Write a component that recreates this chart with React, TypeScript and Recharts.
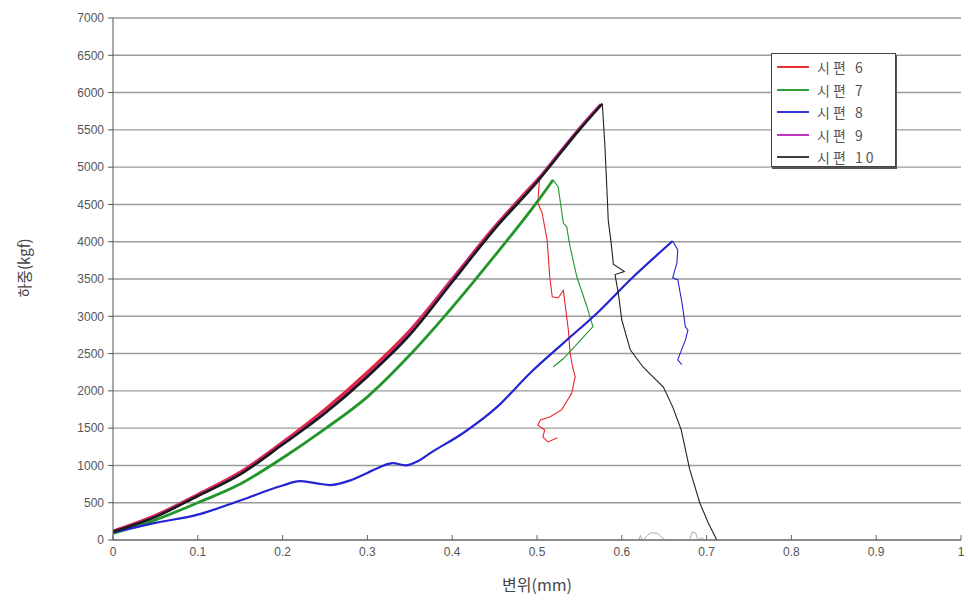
import React from 'react';
import { LineChart, Line, XAxis, YAxis, CartesianGrid, Legend } from 'recharts';

type P = [number, number];

const xTicks = [0, 0.1, 0.2, 0.3, 0.4, 0.5, 0.6, 0.7, 0.8, 0.9, 1];
const yTicks = [0, 500, 1000, 1500, 2000, 2500, 3000, 3500, 4000, 4500, 5000, 5500, 6000, 6500, 7000];

const seriesNames = ['시편 6', '시편 7', '시편 8', '시편 9', '시편 10'];
const lineColors = ['#e8262a', '#22962a', '#2424d2', '#c8288c', '#1a1a1a'];
const legendColors = ['#e83030', '#30a030', '#3838d8', '#c038c0', '#404040'];

// 시편 6
const s6Load: P[] = [
  [0, 120], [0.05, 330], [0.1, 610], [0.15, 910], [0.2, 1310], [0.25, 1750], [0.3, 2250],
  [0.35, 2810], [0.4, 3500], [0.45, 4200], [0.503, 4860],
];
const s6Fail: P[] = [
  [0.503, 4860], [0.501, 4520], [0.506, 4385], [0.512, 4020], [0.515, 3530], [0.518, 3260],
  [0.525, 3245], [0.531, 3350], [0.533, 3180], [0.535, 2990], [0.537, 2815], [0.539, 2510],
  [0.542, 2320], [0.545, 2190], [0.541, 1970], [0.529, 1745], [0.515, 1650], [0.504, 1610],
  [0.501, 1540], [0.509, 1475], [0.507, 1380], [0.513, 1315], [0.524, 1370],
];

// 시편 7
const s7Load: P[] = [
  [0, 90], [0.05, 270], [0.1, 500], [0.15, 750], [0.2, 1100], [0.25, 1490], [0.3, 1920],
  [0.35, 2480], [0.4, 3120], [0.45, 3810], [0.5, 4530], [0.519, 4830],
];
const s7Fail: P[] = [
  [0.519, 4830], [0.525, 4735], [0.531, 4250], [0.535, 4200], [0.539, 3930], [0.547, 3530],
  [0.559, 3125], [0.5625, 2990], [0.566, 2860], [0.531, 2430], [0.519, 2320],
];

// 시편 8
const s8Load: P[] = [
  [0, 100], [0.05, 230], [0.1, 340], [0.15, 530], [0.2, 730], [0.22, 790], [0.24, 760],
  [0.256, 737], [0.28, 800], [0.3, 900], [0.315, 980], [0.33, 1030], [0.345, 1000],
  [0.36, 1060], [0.374, 1165], [0.413, 1435], [0.453, 1785], [0.492, 2240], [0.531, 2640],
  [0.571, 3045], [0.61, 3490], [0.66, 4010],
];
const s8Fail: P[] = [
  [0.66, 4010], [0.666, 3890], [0.665, 3715], [0.66, 3515], [0.666, 3490], [0.671, 3180],
  [0.675, 2860], [0.678, 2815], [0.675, 2680], [0.669, 2510], [0.666, 2415], [0.671, 2350],
];

// 시편 9
const s9Load: P[] = [
  [0, 115], [0.05, 320], [0.1, 600], [0.15, 895], [0.2, 1295], [0.25, 1720], [0.3, 2210],
  [0.35, 2780], [0.4, 3490], [0.45, 4190], [0.5, 4820], [0.55, 5520], [0.575, 5840],
];

// 시편 10
const s10Load: P[] = [
  [0, 110], [0.05, 310], [0.1, 590], [0.15, 880], [0.2, 1280], [0.25, 1700], [0.3, 2190],
  [0.35, 2750], [0.4, 3460], [0.45, 4170], [0.5, 4800], [0.55, 5500], [0.577, 5850],
];
const s10Fail: P[] = [
  [0.577, 5850], [0.58, 5300], [0.583, 4560], [0.584, 4290], [0.588, 3930], [0.59, 3700],
  [0.603, 3600], [0.592, 3560], [0.596, 3300], [0.6, 2950], [0.61, 2550], [0.625, 2320],
  [0.649, 2050], [0.66, 1785], [0.67, 1480], [0.68, 950], [0.692, 496], [0.702, 228], [0.712, 0],
];
const tailBumps: (number | null)[][] = [
  [0.62, 0], [0.622, 60], [0.624, 0], [0.626, null],
  [0.625, 0], [0.63, 60], [0.634, 95], [0.642, 90], [0.651, 0], [0.655, null],
  [0.68, 0], [0.683, 110], [0.687, 95], [0.69, 0], [0.694, 30], [0.697, 10],
];

const pts = (a: P[]) => a.map(([x, y]) => ({ x, y }));
const tailPts = tailBumps.map(([x, y]) => ({ x, y }));

const FONT = '"Liberation Sans", "DejaVu Sans", sans-serif';
const KFONT = '"Noto Sans CJK KR", "Noto Sans", sans-serif';

const LegendBox = () => (
  <div
    style={{
      width: 125,
      height: 114,
      border: '1.5px solid #444',
      boxShadow: '1px 2px 0 #555',
      background: '#fff',
      boxSizing: 'border-box',
      padding: '2px 0 0 5px',
    }}
  >
    {seriesNames.map((n, i) => (
      <div key={n} style={{ display: 'flex', alignItems: 'center', height: 22.5 }}>
        <div style={{ width: 32, height: 2, background: legendColors[i] }} />
        <span style={{ marginLeft: 8, fontFamily: KFONT, fontSize: 14, letterSpacing: 3, color: '#555', lineHeight: '20px' }}>{n}</span>
      </div>
    ))}
  </div>
);

export default function App() {
  return (
    <div style={{ position: 'absolute', left: 0, top: 0, width: 968, height: 603, background: '#fff' }}>
      <LineChart width={968} height={603} margin={{ top: 18, right: 7, bottom: 33, left: 53 }}>
        <CartesianGrid vertical={false} stroke="#9a9a9a" strokeWidth={1.4} />
        <XAxis
          type="number"
          dataKey="x"
          domain={[0, 1]}
          ticks={xTicks}
          allowDataOverflow
          height={30}
          tickSize={-5}
          tickMargin={12}
          stroke="#666"
          tick={{ fill: '#555', fontSize: 12, fontFamily: FONT }}
          tickFormatter={(v: number) => String(v)}
          label={{
            content: () => (
              <text x={537} y={584} textAnchor="middle" dominantBaseline="central"
                style={{ fontFamily: KFONT, fontSize: 16, fill: '#444' }}>
                변위(mm)
              </text>
            ),
          }}
        />
        <YAxis
          type="number"
          dataKey="y"
          domain={[0, 7000]}
          ticks={yTicks}
          allowDataOverflow
          width={60}
          tickSize={5}
          tickMargin={4}
          stroke="#555"
          tick={{ fill: '#555', fontSize: 12, fontFamily: FONT }}
          label={{
            content: () => (
              <text x={23} y={268} transform="rotate(-90 23 268)" textAnchor="middle"
                dominantBaseline="central" style={{ fontFamily: KFONT, fontSize: 15, fill: '#444' }}>
                하중(kgf)
              </text>
            ),
          }}
        />
        <Legend
          layout="vertical"
          align="center"
          verticalAlign="middle"
          content={() => <LegendBox />}
          wrapperStyle={{ position: 'absolute', left: 771, top: 53, width: 128, height: 117 }}
        />
        <Line data={pts(s6Load)} type="monotone" dataKey="y" name={seriesNames[0]} stroke={lineColors[0]} strokeWidth={3} dot={false} isAnimationActive={false} />
        <Line data={pts(s6Fail)} dataKey="y" name="s6f" legendType="none" stroke={lineColors[0]} strokeWidth={1.1} dot={false} isAnimationActive={false} />
        <Line data={pts(s7Load)} type="monotone" dataKey="y" name={seriesNames[1]} stroke={lineColors[1]} strokeWidth={2.8} dot={false} isAnimationActive={false} />
        <Line data={pts(s7Fail)} dataKey="y" name="s7f" legendType="none" stroke={lineColors[1]} strokeWidth={1.1} dot={false} isAnimationActive={false} />
        <Line data={pts(s8Load)} type="monotone" dataKey="y" name={seriesNames[2]} stroke={lineColors[2]} strokeWidth={2.2} dot={false} isAnimationActive={false} />
        <Line data={pts(s8Fail)} dataKey="y" name="s8f" legendType="none" stroke={lineColors[2]} strokeWidth={1.1} dot={false} isAnimationActive={false} />
        <Line data={pts(s9Load)} type="monotone" dataKey="y" name={seriesNames[3]} stroke={lineColors[3]} strokeWidth={3} dot={false} isAnimationActive={false} />
        <Line data={pts(s10Load)} type="monotone" dataKey="y" name={seriesNames[4]} stroke={lineColors[4]} strokeWidth={2.6} dot={false} isAnimationActive={false} />
        <Line data={pts(s10Fail)} dataKey="y" name="s10f" legendType="none" stroke="#222" strokeWidth={1.1} dot={false} isAnimationActive={false} />
        <Line data={tailPts} dataKey="y" name="tail" legendType="none" stroke="#aaa" strokeWidth={1} dot={false} connectNulls={false} isAnimationActive={false} />
      </LineChart>
    </div>
  );
}
